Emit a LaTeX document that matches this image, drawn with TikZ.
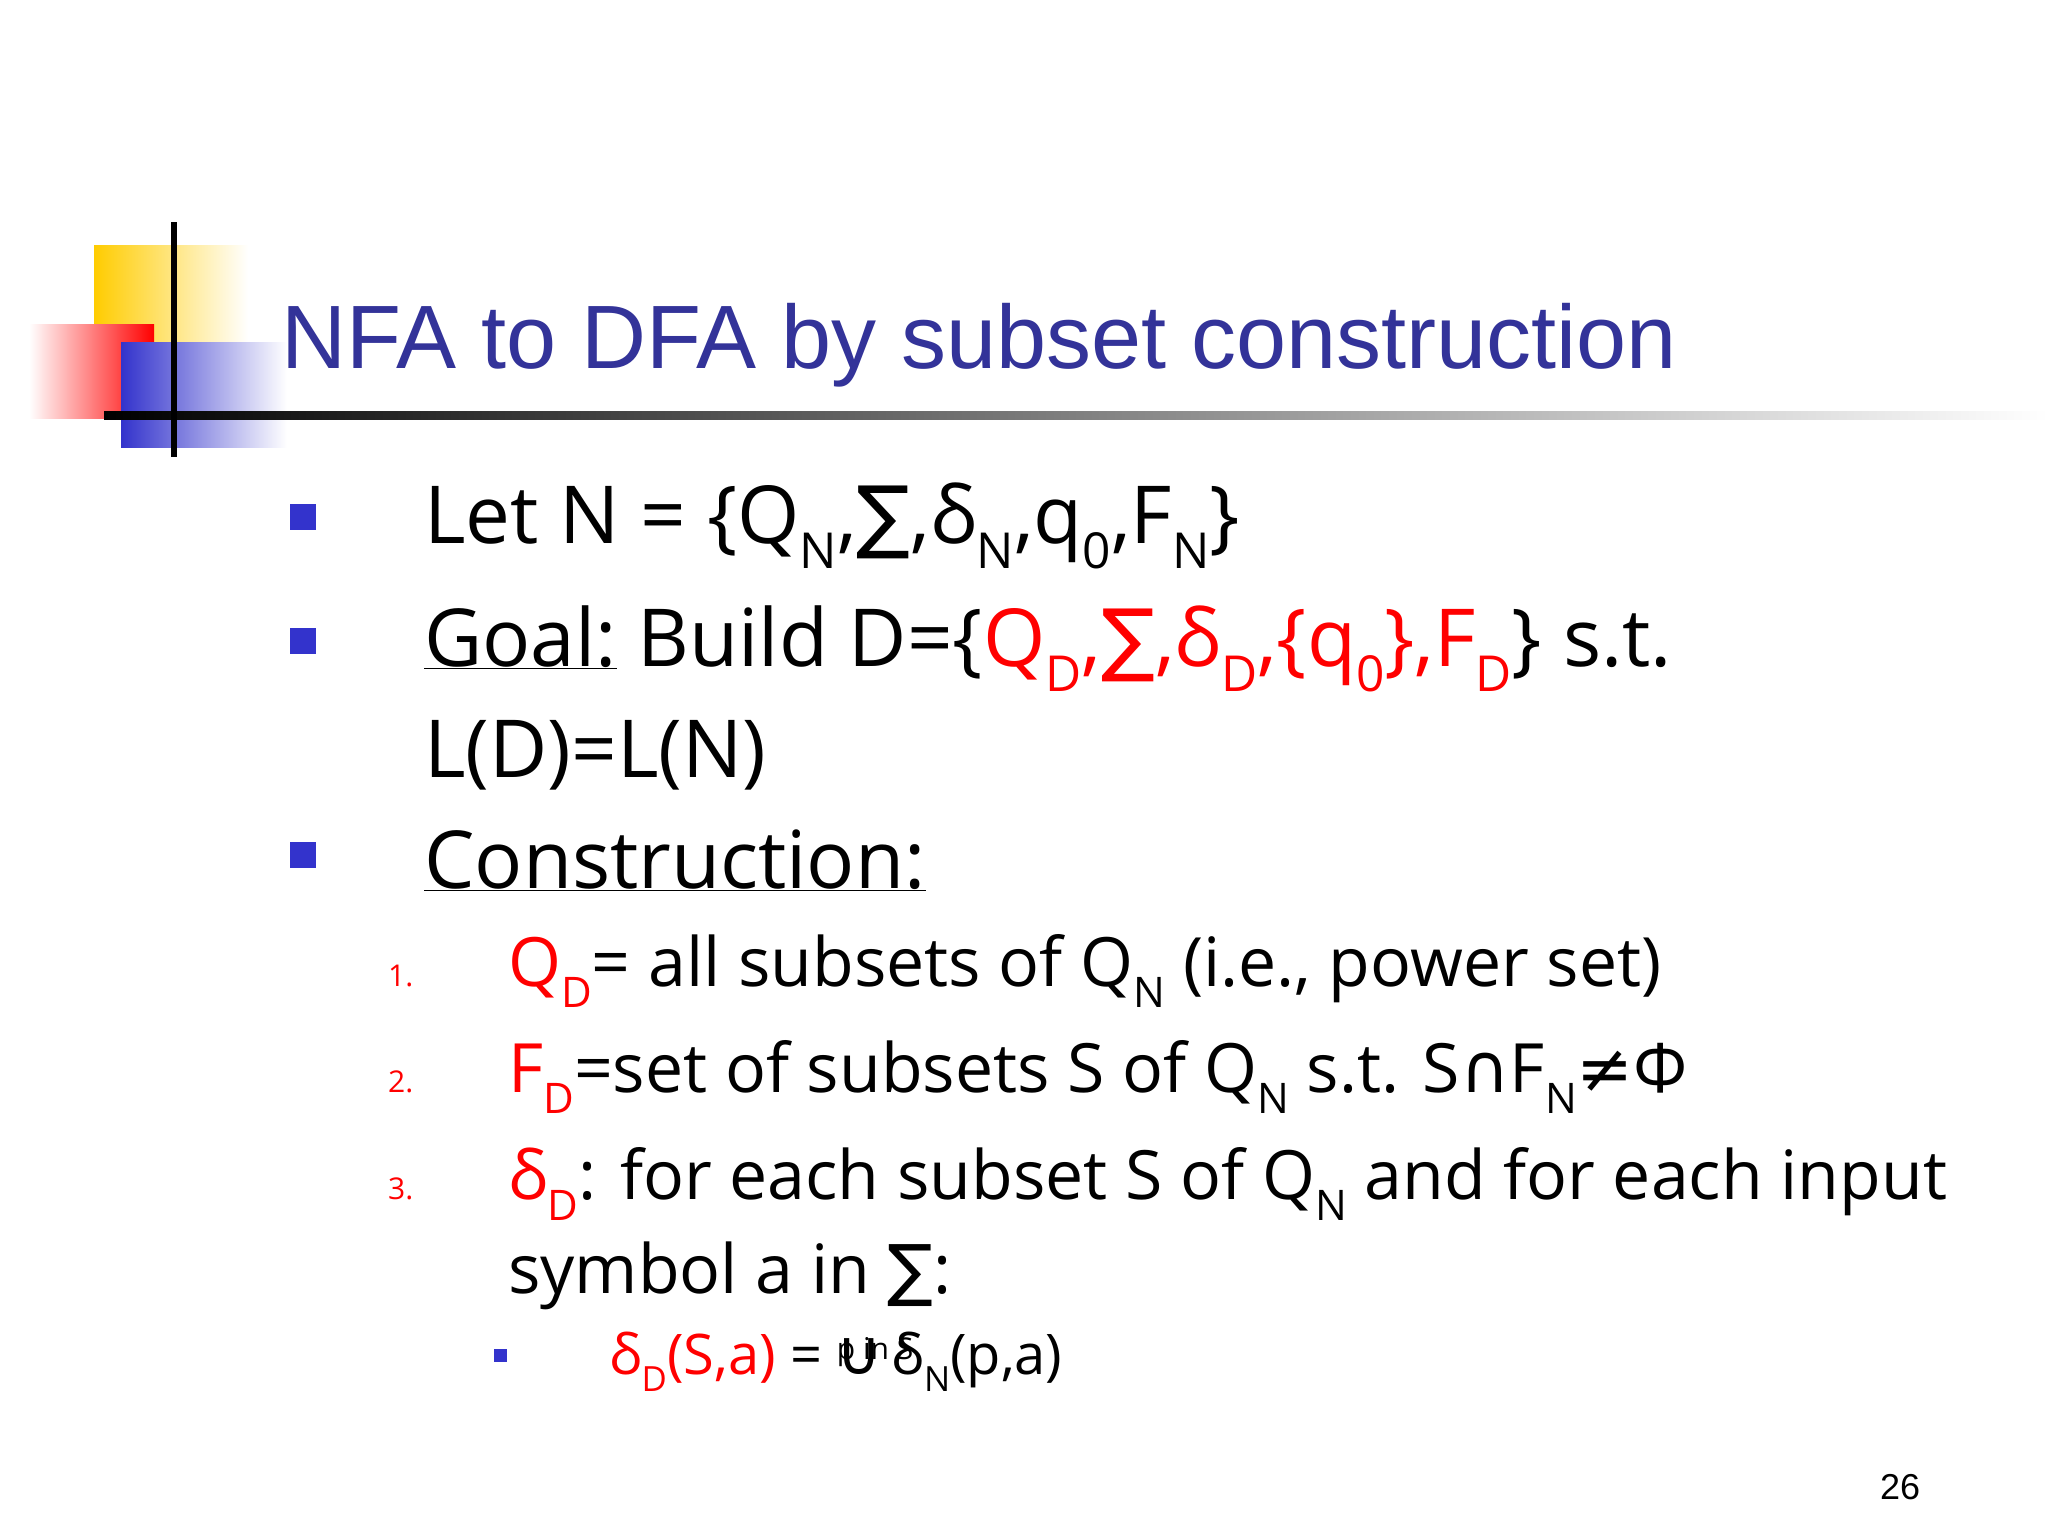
\documentclass[tikz,border=0pt]{standalone}
\usepackage{fontspec}
\usepackage{graphicx}
\setmainfont{Open Sans}
\newfontfamily\titlefont{Liberation Sans}
\newfontfamily\sym{DejaVu Sans}
\definecolor{ttl}{HTML}{333399}
\definecolor{blt}{HTML}{3333CC}
\definecolor{rd}{HTML}{FF0000}
\definecolor{gold}{HTML}{FFCC00}
\newcommand\sbx[1]{\raisebox{-0.6ex}{\scalebox{0.62}{#1}}}
\newcommand\SUM{{\sym ∑}}
\begin{document}
\begin{tikzpicture}[x=1pt,y=-1pt,
  txt/.style={anchor=base west,inner sep=0pt},
  bul/.style={fill=blt,draw=none,minimum size=26pt,inner sep=0pt},
  sbul/.style={fill=blt,draw=none,minimum size=13pt,inner sep=0pt},
  num/.style={anchor=base west,inner sep=0pt,text=rd,font=\fontsize{30}{32}\selectfont}]
\useasboundingbox (0,0) rectangle (2048,1536);
\fill[white] (0,0) rectangle (2048,1536);
% decoration
\shade[left color=gold,right color=white] (94,245) rectangle (248,392);
\shade[left color=white,right color=red] (29,324) rectangle (154,418);
\shade[left color=blt,right color=white] (121,342) rectangle (287,447);
\shade[left color=black,right color=white] (104,411) rectangle (2048,419);
\fill[black] (171,222) rectangle (177,457);
% title
\node[txt,text=ttl,font=\titlefont\fontsize{90}{92}\selectfont] (title) at (281,368) {NFA to DFA by subset construction};
% bullets
\node[bul] (b1) at (303,517) {};
\node[bul] (b2) at (303,641) {};
\node[bul] (b3) at (303,855) {};
\begin{scope}[every node/.style={txt,font=\fontsize{80}{90}\selectfont}]
\node (l1) at (424,543) {Let N = \{Q\sbx{N},\SUM,δ\sbx{N},q\sbx{0},F\sbx{N}\}};
\node (l2) at (424,666) {\underline{Goal:} Build D=\{\textcolor{rd}{Q\sbx{D},\SUM,δ\sbx{D},\{q\sbx{0}\},F\sbx{D}}\} s.t.};
\node (l3) at (424,777) {L(D)=L(N)};
\node (l4) at (424,888) {\underline{Construction:}};
\end{scope}
\node[num] (n1) at (388,986) {1.};
\node[num] (n2) at (388,1092) {2.};
\node[num] (n3) at (388,1199) {3.};
\begin{scope}[every node/.style={txt,font=\fontsize{68}{75}\selectfont}]
\node (c1) at (508,986) {\textcolor{rd}{Q\sbx{D}}= all subsets of Q\sbx{N} (i.e., power set)};
\node (c2) at (508,1092) {\textcolor{rd}{F\sbx{D}}=set of subsets S of Q\sbx{N} s.t. S{\sym ∩}F\sbx{N}{\sym ≠}Φ};
\node (c3) at (508,1199) {\textcolor{rd}{δ\sbx{D}}: for each subset S of Q\sbx{N} and for each input};
\node (c4) at (508,1293) {symbol a in \SUM:};
\end{scope}
\node[sbul] (sb) at (500,1355) {};
\node[txt,font=\fontsize{56}{60}\selectfont] (f1) at (609,1374) {\textcolor{rd}{δ\sbx{D}(S,a)} = \rlap{\raisebox{0.5ex}{\fontsize{30}{32}\selectfont p in S}}{\sym\fontsize{62}{64}\selectfont ∪}\,δ\sbx{N}(p,a)};
\node[txt,font=\titlefont\fontsize{36}{40}\selectfont] (pg) at (1880,1499) {26};
\end{tikzpicture}
\end{document}
